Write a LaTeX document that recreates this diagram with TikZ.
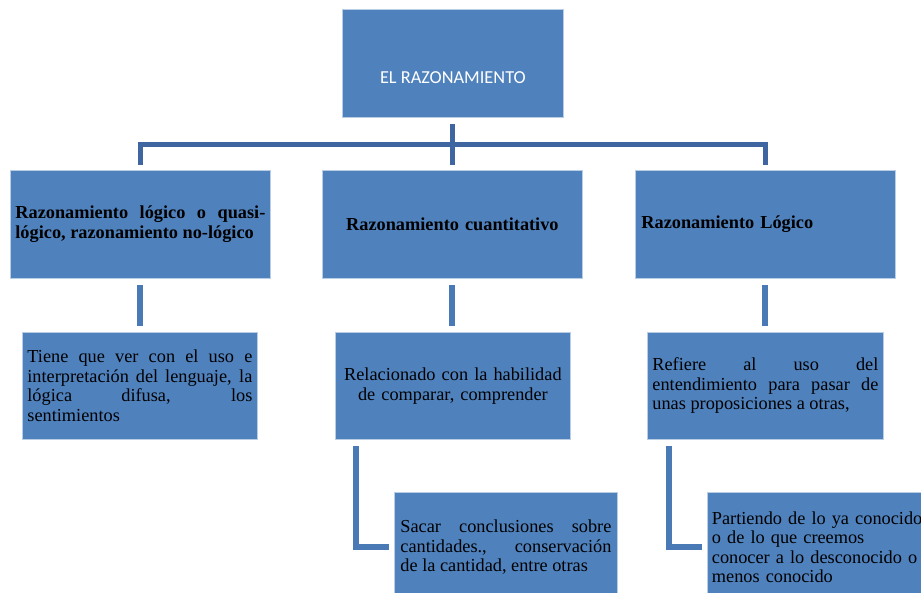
\documentclass[tikz,border=0pt]{standalone}
\usepackage{fontspec}
\setmainfont{Liberation Serif}
\newfontfamily\calfont{Carlito}
\usetikzlibrary{positioning,calc}
\definecolor{boxfill}{HTML}{4F81BD}
\definecolor{boxedge}{HTML}{B9CDE5}
\definecolor{treeink}{HTML}{3F66A0}
\definecolor{stemink}{HTML}{4A7AB5}
\hbadness=10000
\hyphenpenalty=10000

\begin{document}
\begin{tikzpicture}[x=1pt,y=-1pt,
    box/.style={rectangle,fill=boxfill,draw=boxedge,line width=0.8pt,anchor=north west,
      inner xsep=5pt,inner ysep=0pt,font=\fontsize{18.3}{19.5}\selectfont},
    headbox/.style={box,font=\fontsize{18.3}{20}\selectfont\bfseries,
      minimum width=260pt,minimum height=108pt},
    notebox/.style={box,minimum height=107pt},
    lowbox/.style={box,inner xsep=6pt,minimum height=110pt},
    treeedge/.style={draw=treeink,line width=5pt},
    stemedge/.style={draw=stemink,line width=6pt}]
      \fill[white] (0,0) rectangle (921,593);
      \useasboundingbox (0,0) rectangle (921,593);

      \node[box,minimum width=221pt,minimum height=108pt] (root) at (342,9) {};
      \node[font=\calfont\fontsize{18.3}{20}\selectfont,text=white] (roottext)
        at ([yshift=-14pt]root.center) {EL RAZONAMIENTO};

      \node[headbox,text width=250pt,align=justify] (logicq) at (10,170)
        {Razonamiento lógico o quasi-\linebreak lógico, razonamiento no-lógico};
      \node[headbox,text width=250pt,align=center] (cuant) at (322,170)
        {Razonamiento cuantitativo};
      \node[headbox,inner xsep=6pt,text width=248pt,align=left] (logic) at (635,170)
        {Razonamiento Lógico};

      \node[notebox,text width=225pt,align=justify] (lenguaje) at (22,332)
        {Tiene que ver con el uso e\linebreak interpretación del lenguaje, la\linebreak
         lógica difusa, los\linebreak sentimientos};
      \node[notebox,text width=225pt,align=center] (compara) at (335,332)
        {Relacionado con la habilidad\\ de comparar, comprender};
      \node[notebox,text width=226pt,align=justify] (entiende) at (647,332)
        {Refiere al uso del\linebreak entendimiento para pasar de\linebreak
         unas proposiciones a otras,};

      \node[lowbox,text width=211pt,align=justify] (cantidad) at (394,492)
        {Sacar conclusiones sobre\linebreak cantidades., conservación\linebreak
         de la cantidad, entre otras};
      \node[lowbox,inner xsep=4.5pt,text width=219pt,align=left] (conocido) at (707,492)
        {Partiendo de lo ya conocido\\ o de lo que creemos\\
         conocer a lo desconocido o\\ menos conocido};

      \coordinate (bus) at (452,144.5);
      \draw[treeedge] ([yshift=-6pt]root.south -| cuant.north) -- ([yshift=5pt]cuant.north);
      \draw[treeedge] ([yshift=5pt]logicq.north) |- (bus) -| ([yshift=5pt]logic.north);

      \draw[stemedge] ([yshift=-6pt]logicq.south) -- ([yshift=6pt]lenguaje.north -| logicq.south);
      \draw[stemedge] ([yshift=-6pt]cuant.south) -- ([yshift=6pt]compara.north -| cuant.south);
      \draw[stemedge] ([yshift=-6pt]logic.south) -- ([yshift=6pt]entiende.north -| logic.south);

      \draw[stemedge] ([xshift=21pt,yshift=-6pt]compara.south west) |- ([xshift=-5pt]cantidad.west);
      \draw[stemedge] ([xshift=22pt,yshift=-6pt]entiende.south west) |- ([xshift=-5pt]conocido.west);
    \end{tikzpicture}
\end{document}
